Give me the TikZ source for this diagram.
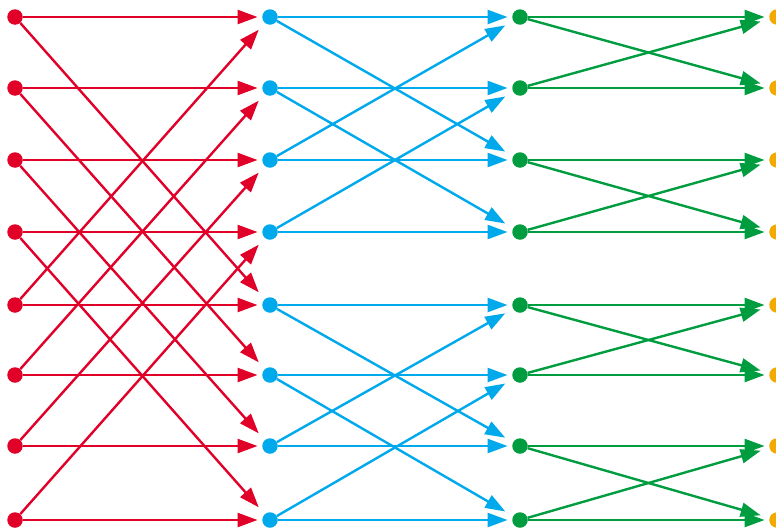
\documentclass[tikz,border=0pt]{standalone}
\usepackage{tikz}
\usetikzlibrary{arrows.meta}

\definecolor{vermelho}{RGB}{224,0,40}
\definecolor{azul}{RGB}{0,168,236}
\definecolor{verde}{RGB}{0,156,64}
\definecolor{laranja}{RGB}{242,170,0}

\begin{document}
\begin{tikzpicture}[
x=1pt, y=-1pt,
ponto/.style={circle, fill=#1, inner sep=0pt, minimum size=15.5pt},
seta/.style={-{Triangle[length=20pt, width=14pt]}, line width=2.4pt, draw=#1, shorten >=4.5pt},
cruz/.style={seta=#1, shorten >=9pt}
]
\useasboundingbox (0,0) rectangle (776,530);

% pontos das quatro colunas
\foreach \i/\y in {0/17, 1/88, 2/160, 3/232, 4/305, 5/375, 6/446, 7/520} {
  \node[ponto=vermelho] (a\i) at (15,\y) {};
  \node[ponto=azul] (b\i) at (270,\y) {};
  \node[ponto=verde] (c\i) at (520,\y) {};
  \node[ponto=laranja] (d\i) at (777,\y) {};
}

% ligacoes diretas
\foreach \i in {0,...,7} {
  \draw[seta=vermelho] (a\i) -- (b\i);
  \draw[seta=azul] (b\i) -- (c\i);
  \draw[seta=verde] (c\i) -- (d\i);
}

% primeiro estagio
\foreach \i/\j in {0/4, 1/5, 2/6, 3/7, 4/0, 5/1, 6/2, 7/3}
  \draw[cruz=vermelho] (a\i) -- (b\j);

% segundo estagio
\foreach \i/\j in {0/2, 1/3, 2/0, 3/1, 4/6, 5/7, 6/4, 7/5}
  \draw[cruz=azul] (b\i) -- (c\j);

% terceiro estagio
\foreach \i/\j in {0/1, 1/0, 2/3, 3/2, 4/5, 5/4, 6/7, 7/6}
  \draw[cruz=verde] (c\i) -- (d\j);
\end{tikzpicture}
\end{document}
